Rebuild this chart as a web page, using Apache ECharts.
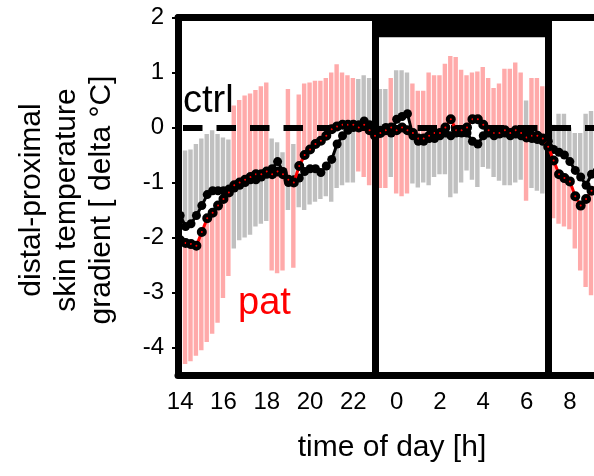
<!DOCTYPE html>
<html><head><meta charset="utf-8">
<script src="https://cdn.jsdelivr.net/npm/echarts@6/dist/echarts.min.js"></script>
<style>html,body{margin:0;padding:0;background:#fff}#c{width:594px;height:476px}</style>
</head><body><div id="c"></div>
<script>
// time grid: 15-min bins starting 14:00 (hours beyond 24 = next day)
const startHour = 14, stepHour = 0.25;

const ctrlMean = [
 -1.6, -1.8, -1.75, -1.6,
 -1.42, -1.22, -1.15, -1.15,
 -1.15, -1.12, -1.1, -1.05,
 -1.0, -0.95, -0.95, -0.9,
 -0.85, -0.75, -0.62, -0.8,
 -1.0, -0.95, -0.92, -0.8,
 -0.75, -0.75, -0.82, -0.7,
 -0.58, -0.3, -0.15, -0.05,
 0.0, 0.05, 0.12, 0.05,
 -0.1, -0.05, 0.0, -0.1,
 0.15, 0.2, 0.25, -0.15,
 -0.25, -0.25, -0.2, -0.2,
 -0.15, -0.1, -0.15, -0.1,
 -0.1, -0.1, -0.25, -0.3,
 -0.15, -0.1, -0.15, -0.12,
 -0.1, -0.15, -0.12, -0.15,
 -0.1, -0.2, -0.22, -0.25,
 -0.25, -0.4, -0.45, -0.5,
 -0.62, -0.78, -0.9, -1.05,
 -0.85, -0.7
];
const patMean = [
 -2.05, -2.1, -2.12, -2.15,
 -1.9, -1.65, -1.55, -1.42,
 -1.3, -1.18, -1.05, -1.0,
 -0.95, -0.9, -0.85, -0.85,
 -0.8, -0.85, -0.8, -0.85,
 -0.95, -1.0, -0.7, -0.5,
 -0.4, -0.3, -0.24, -0.15,
 -0.03, 0.02, 0.05, 0.05,
 0.05, 0.0, 0.05, -0.05,
 -0.15, -0.1, -0.05, 0.0,
 -0.05, 0.0, -0.05, -0.1,
 -0.2, -0.2, -0.15, -0.1,
 -0.1, 0.0, 0.15, -0.05,
 -0.05, 0.0, 0.15, 0.15,
 0.05, -0.05, -0.1, -0.1,
 -0.05, -0.1, -0.05, -0.1,
 -0.18, -0.15, -0.15, -0.2,
 -0.35, -0.6, -0.85, -0.92,
 -0.98, -1.25, -1.42, -1.3,
 -1.15, -1.05
];
const ctrlSD = [
 1.18, 1.38, 1.35, 1.3,
 1.22, 1.1, 1.1, 1.03,
 0.97, 0.9, 1.1, 1.0,
 1.0, 1.0, 0.85, 0.85,
 0.85, 0.55, 0.35, 0.35,
 0.5, 0.65, 0.53, 0.7,
 0.65, 0.6, 0.48, 0.55,
 0.77, 0.8, 0.9, 0.95,
 1.0, 0.83, 0.83, 0.85,
 0.8, 0.75, 0.7, 0.8,
 0.89, 0.84, 0.75, 0.87,
 0.84, 0.75, 0.85, 0.7,
 0.7, 0.75, 1.12, 1.1,
 0.9, 0.68, 0.7, 0.78,
 0.57, 0.65, 0.75, 0.85,
 0.95, 0.9, 0.88, 0.8,
 0.59, 0.9, 0.93, 0.95,
 0.3, 0.45, 0.7, 0.75,
 0.62, 0.68, 0.8, 1.3,
 1.15, 1.0
];
const patSD = [
 2.15, 2.2, 2.13, 2.0,
 2.15, 2.25, 2.2, 2.13,
 1.8, 1.52, 1.45, 1.5,
 1.53, 1.52, 1.53, 1.6,
 1.62, 1.75, 1.85, 1.75,
 1.65, 1.55, 1.3, 1.3,
 1.22, 1.15, 1.09, 1.05,
 1.03, 1.13, 0.95, 0.9,
 0.85, 0.8, 0.95, 1.0,
 0.95, 1.0, 1.05, 0.9,
 1.15, 1.25, 1.15, 0.9,
 0.87, 0.87, 1.15, 1.05,
 1.05, 1.16, 1.15, 1.33,
 1.1, 0.95, 0.85, 0.87,
 1.05, 0.95, 0.82, 0.9,
 1.12, 1.17, 1.23, 1.1,
 1.15, 1.05, 1.05, 0.95,
 1.15, 1.05, 0.9, 0.88,
 0.87, 0.95, 1.18, 1.6,
 1.9, 2.05
];
const xTickValues = [14, 16, 18, 20, 22, 24, 26, 28, 30, 32];
const yTickValues = [-4, -3, -2, -1, 0, 1, 2];
const lightsOff = 23, lightsOn = 31;

const times = ctrlMean.map((_, i) => startHour + i * stepHour);
// upper one-sided bar for the higher group, lower one-sided bar for the lower group
const grayData = [], pinkData = [];
times.forEach((t, i) => {
  const c = ctrlMean[i], p = patMean[i];
  if (c >= p) { grayData.push([t, c, c + ctrlSD[i]]); pinkData.push([t, p - patSD[i], p]); }
  else { grayData.push([t, c - ctrlSD[i], c]); pinkData.push([t, p, p + patSD[i]]); }
});
const ctrlLine = times.map((t, i) => [t, ctrlMean[i]]);
const patLine = times.map((t, i) => [t, patMean[i]]);

const FONT = '"Liberation Sans", Arial, sans-serif';
function errRender(color) {
  return function (params, api) {
    const t = api.value(0), a = api.value(1), b = api.value(2);
    const p1 = api.coord([t - stepHour / 2, Math.max(a, b)]);
    const p2 = api.coord([t + stepHour / 2, Math.min(a, b)]);
    return { type: 'rect', shape: { x: p1[0], y: p1[1], width: Math.max(p2[0] - p1[0] - 1, 1), height: p2[1] - p1[1] },
      style: { fill: color } };
  };
}
const frameLine = { color: '#000', width: 7, cap: 'round' };
// plot continues past the right edge of the picture; visible part 13.9 h .. ~33.1 h (21.65 px per hour)
const X_MIN = 13.9, X_MAX = 33.115;

const chart = echarts.init(document.getElementById('c'));
chart.setOption({
  animation: false,
  backgroundColor: '#fff',
  grid: { left: 178, top: 17.5, right: 0, height: 357.5, outerBoundsMode: 'none' },
  xAxis: [
    { type: 'value', min: X_MIN, max: X_MAX, position: 'bottom', z: 10,
      axisLine: { show: true, onZero: false, lineStyle: frameLine },
      axisTick: { show: false }, splitLine: { show: false },
      axisLabel: { customValues: xTickValues, formatter: v => String(Math.round(v) % 24),
        fontSize: 24, color: '#000', margin: 15, fontFamily: FONT } },
    { type: 'value', min: X_MIN, max: X_MAX, position: 'top', z: 10,
      axisLine: { show: true, onZero: false, lineStyle: frameLine },
      axisTick: { show: false }, splitLine: { show: false }, axisLabel: { show: false } }
  ],
  yAxis: { type: 'value', min: -4.5, max: 2, z: 10,
    axisLine: { show: true, onZero: false, lineStyle: frameLine },
    axisTick: { show: true, length: 6, customValues: yTickValues, lineStyle: { color: '#000', width: 2 } },
    splitLine: { show: false },
    axisLabel: { customValues: yTickValues, fontSize: 24, color: '#000', margin: 14, fontFamily: FONT } },
  series: [
    { type: 'custom', name: 'ctrl err', renderItem: errRender('#c0c0c0'), data: grayData,
      encode: { x: 0, y: [1, 2] }, clip: true, z: 2 },
    { type: 'custom', name: 'pat err', renderItem: errRender('#ffaaaa'), data: pinkData,
      encode: { x: 0, y: [1, 2] }, clip: true, z: 2 },
    { type: 'line', name: 'ref', data: [], z: 3, silent: true,
      markLine: { silent: true, symbol: ['none', 'none'], label: { show: false },
        data: [
          { yAxis: 0, lineStyle: { color: '#000', width: 6, type: [19.5, 14], dashOffset: 28.5 } },
          { xAxis: lightsOff, lineStyle: { color: '#000', width: 7, type: 'solid' } },
          { xAxis: lightsOn, lineStyle: { color: '#000', width: 7, type: 'solid' } }
        ] },
      markArea: { silent: true, itemStyle: { color: '#000', opacity: 1 },
        data: [[{ xAxis: lightsOff, yAxis: 1.64 }, { xAxis: lightsOn, yAxis: 2 }]] } },
    { type: 'line', name: 'ctrl', data: ctrlLine, z: 5, clip: true,
      symbol: 'circle', symbolSize: 9, showSymbol: true,
      itemStyle: { color: '#000' }, lineStyle: { color: '#000', width: 3 } },
    { type: 'line', name: 'pat', data: patLine, z: 6, clip: true,
      symbol: 'circle', symbolSize: 6, showSymbol: true,
      itemStyle: { color: '#ff0000', borderColor: '#000', borderWidth: 4 },
      lineStyle: { color: '#ff0000', width: 3 } }
  ],
  graphic: [
    { type: 'text', x: 67, y: 200, rotation: Math.PI / 2, z: 20,
      style: { text: 'distal-proximal\nskin temperature\ngradient [ delta °C]', font: '30px ' + FONT,
        fill: '#000', align: 'center', verticalAlign: 'middle', lineHeight: 35 } },
    { type: 'text', x: 392, y: 448, z: 20,
      style: { text: 'time of day [h]', font: '30px ' + FONT, fill: '#000', align: 'center', verticalAlign: 'middle' } },
    { type: 'text', x: 183, y: 102, z: 20,
      style: { text: 'ctrl', font: '38px ' + FONT, fill: '#000', align: 'left', verticalAlign: 'middle' } },
    { type: 'text', x: 238, y: 304, z: 20,
      style: { text: 'pat', font: '38px ' + FONT, fill: '#ff0000', align: 'left', verticalAlign: 'middle' } }
  ]
});
</script></body></html>
